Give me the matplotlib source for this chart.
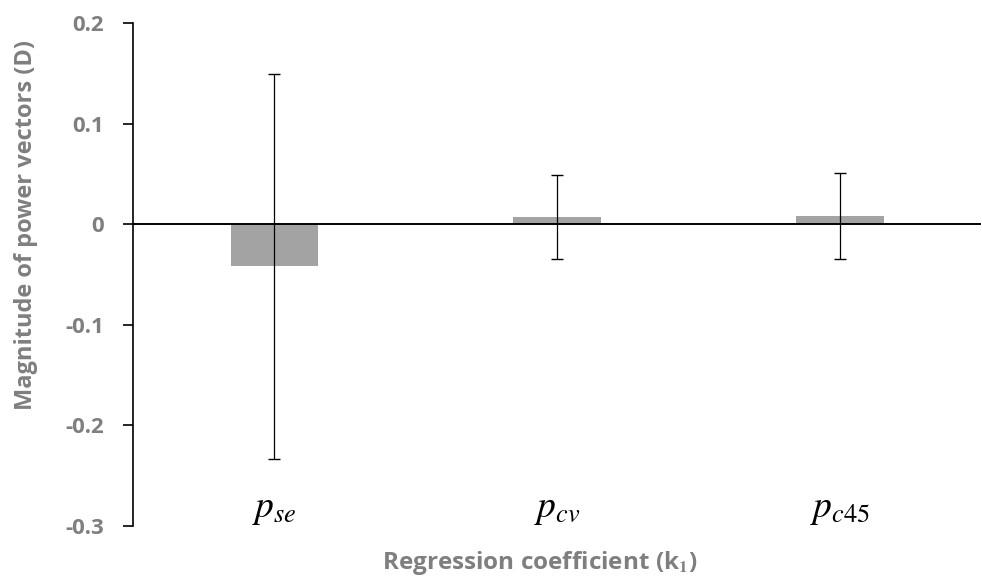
#!/usr/bin/python3

import numpy as np
from matplotlib import pyplot as plt

# regression coefficients (k1) and their error ranges
categories = [r'$p_{se}$', r'$p_{cv}$', r'$p_{c45}$']
means = [-0.042, 0.007, 0.008]
errors = [0.191, 0.042, 0.043]
y_ticks = [0.2, 0.1, 0, -0.1, -0.2, -0.3]
y_tick_labels = ['0.2', '0.1', '0', '-0.1', '-0.2', '-0.3']

plt.rcParams['mathtext.fontset'] = 'stix'
grey = '#7f7f7f'

fig = plt.figure(figsize=(9.82, 5.81), dpi=100)
ax = fig.add_axes([0.1354, 0.0947, 0.864, 0.8657])

x = np.arange(len(categories))
ax.bar(x, means, width=0.31, color='#a3a3a3', zorder=2)
ax.errorbar(x, means, yerr=errors, fmt='none', ecolor='black',
            elinewidth=0.9, capsize=4, capthick=1.0, zorder=3)

# zero line drawn as the category axis
ax.axhline(0, color='black', linewidth=1.4, zorder=4)

ax.set_xlim(-0.5, 2.5)
ax.set_ylim(-0.3, 0.2)

ax.set_yticks(y_ticks)
ax.set_yticklabels(y_tick_labels, fontsize=16, fontweight='bold',
                   color=grey, family='Open Sans')
ax.tick_params(axis='y', direction='out', length=7, width=1.2, pad=14)

ax.set_xticks(x)
ax.set_xticklabels(categories, fontsize=27)
ax.tick_params(axis='x', length=0, pad=-25)

for side in ['top', 'right', 'bottom']:
    ax.spines[side].set_visible(False)
ax.spines['left'].set_linewidth(1.2)

# axis titles placed where the original has them
fig.text(26 / 982, 1 - 225 / 581, 'Magnitude of power vectors (D)',
         rotation=90, ha='center', va='center', fontsize=17,
         fontweight='bold', color=grey, family='Open Sans')
fig.text(540 / 982, 1 - 563 / 581, r'Regression coefficient (k$_\mathbf{1}$)',
         ha='center', va='center', fontsize=17.5, fontweight='bold',
         color=grey, family='Open Sans')

fig.savefig('out.png', dpi=100)
